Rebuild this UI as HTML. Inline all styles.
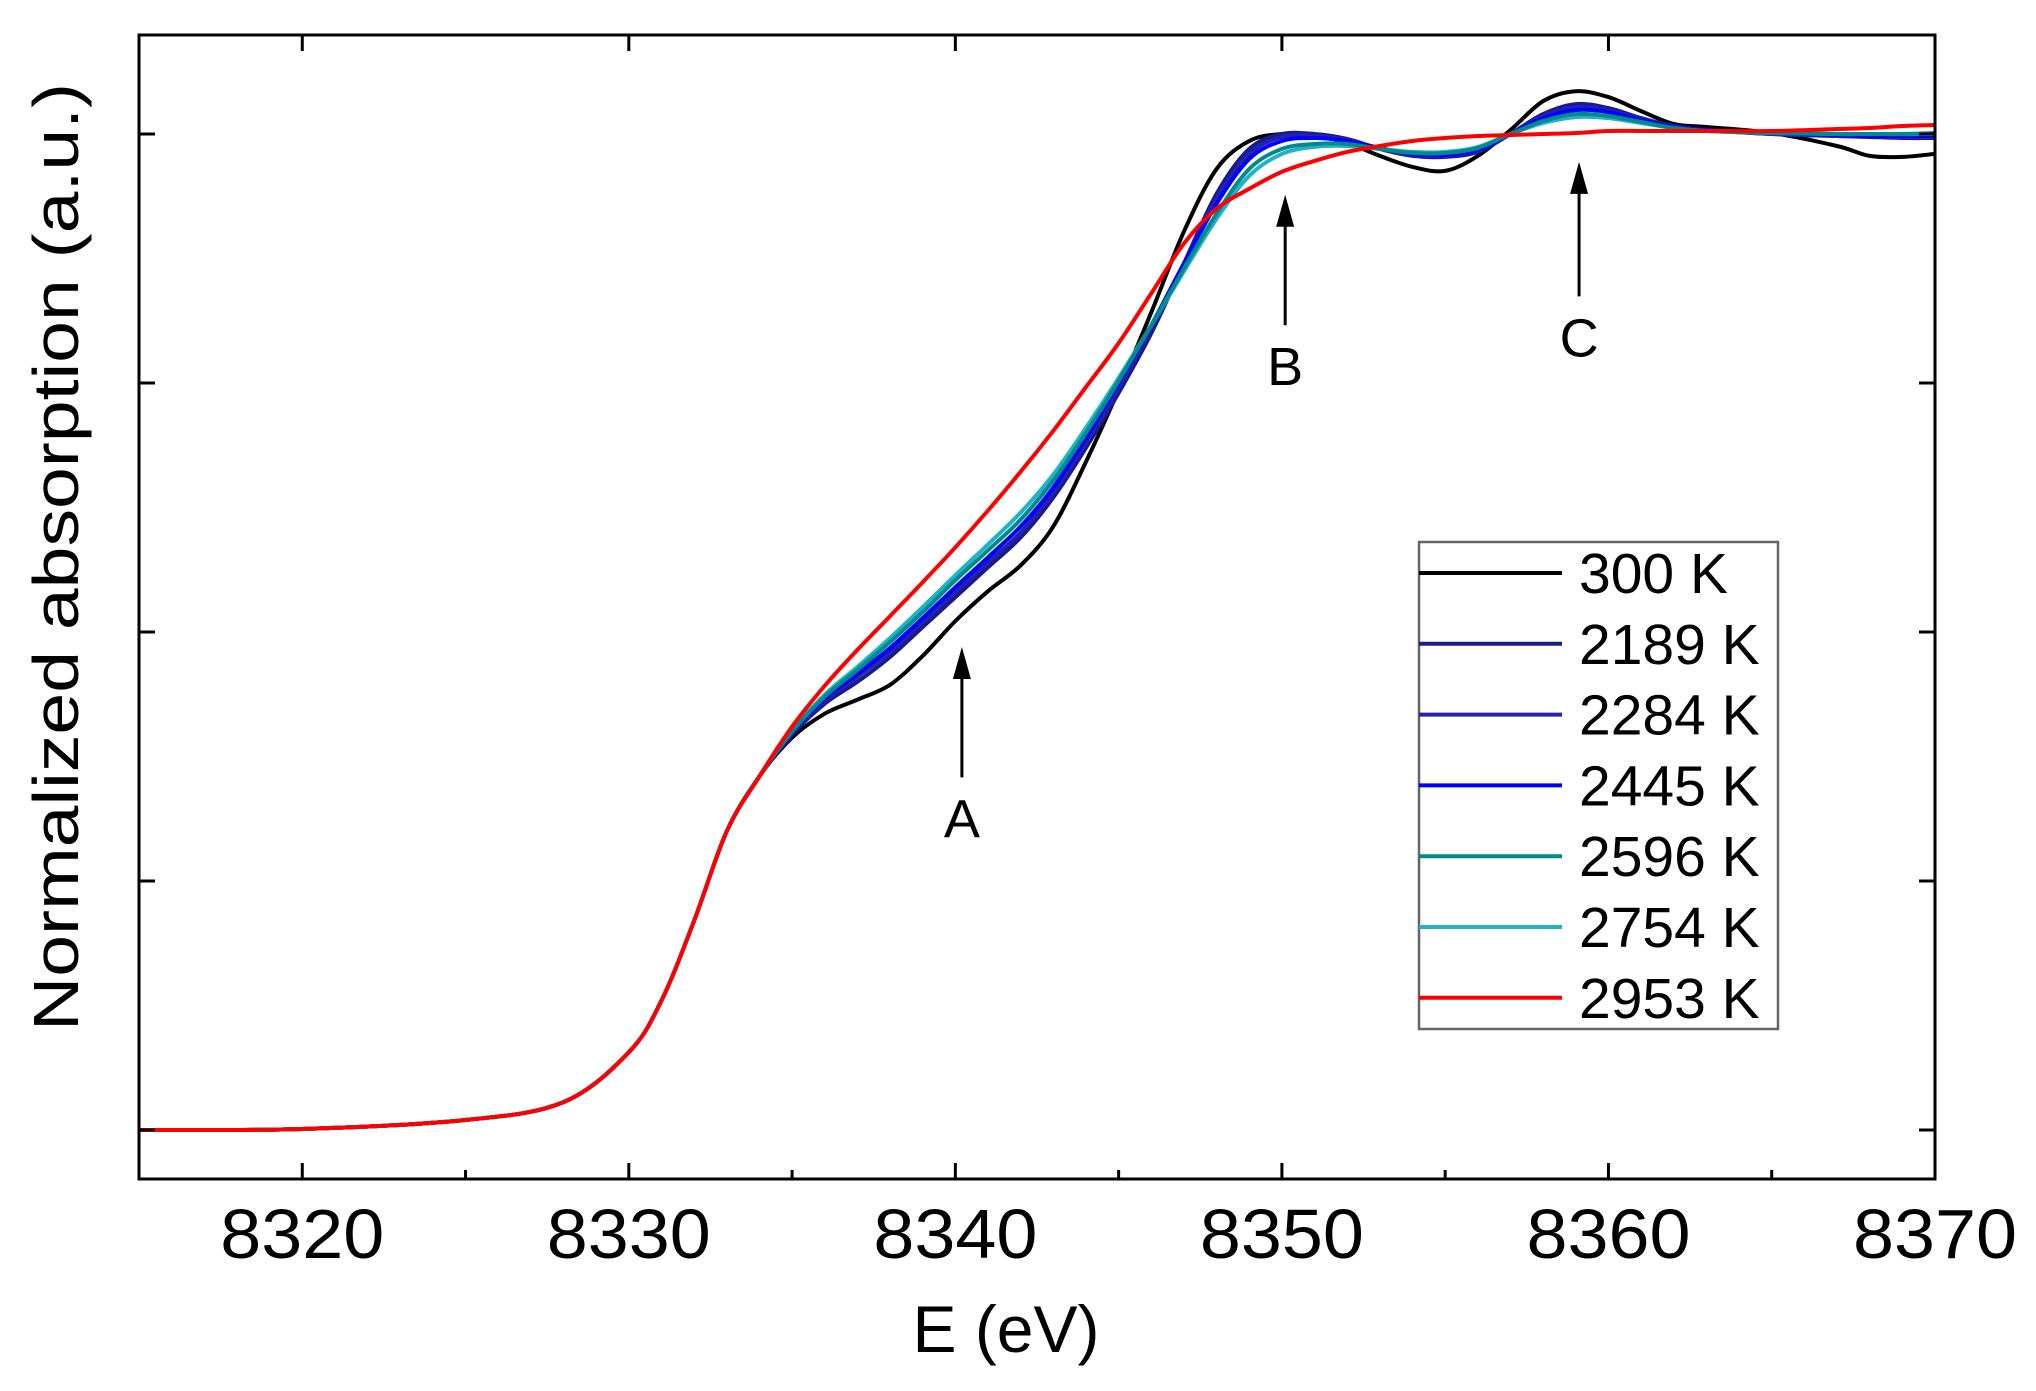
<!DOCTYPE html>
<html><head><meta charset="utf-8"><style>
html,body{margin:0;padding:0;background:#fff;}
svg{display:block;font-family:"Liberation Sans",sans-serif;}
</style></head><body>
<svg id="chart" width="2036" height="1391" viewBox="0 0 2036 1391">
<g id="series"></g>
<g id="axes"></g>
<g id="annot"></g>
<g id="legend"></g>
</svg>
<script>
const energies = [8315,8320,8325,8328,8330,8331,8332,8333,8334,8335,8336,8337,8338,8339,8340,8341,8342,8343,8344,8345,8346,8347,8348,8349,8350,8351,8352,8353,8354,8355,8356,8357,8358,8359,8360,8361,8362,8363,8365,8367,8368,8369,8370];
const preEdge = [0,0.001,0.01,0.028,0.078,0.13,0.21,0.30,0.355];
const s300 = preEdge.concat([0.394,0.418,0.432,0.447,0.476,0.511,0.541,0.567,0.606,0.671,0.743,0.821,0.902,0.965,0.993,1.0,0.999,0.991,0.978,0.967,0.963,0.978,1.004,1.033,1.043,1.037,1.023,1.010,1.007,1.001,0.988,0.978,0.977,0.980]);
const s2189 = preEdge.concat([0.397,0.428,0.45,0.475,0.505,0.535,0.565,0.595,0.635,0.685,0.74,0.8,0.87,0.94,0.985,1.0,1.0,0.995,0.985,0.978,0.977,0.982,1.0,1.02,1.03,1.026,1.016,1.008,1.004,1.0,0.998,0.997,0.996,0.996]);
const s2284 = preEdge.concat([0.398,0.431,0.455,0.48,0.51,0.54,0.57,0.6,0.64,0.69,0.745,0.805,0.87,0.935,0.98,0.997,0.998,0.994,0.985,0.979,0.978,0.983,1.0,1.018,1.027,1.024,1.015,1.008,1.004,1.0,0.998,0.998,0.997,0.997]);
const s2445 = preEdge.concat([0.399,0.433,0.458,0.484,0.514,0.545,0.575,0.606,0.645,0.695,0.75,0.808,0.87,0.93,0.975,0.993,0.996,0.993,0.986,0.98,0.979,0.984,1.0,1.016,1.024,1.022,1.014,1.007,1.004,1.001,0.999,0.998,0.998,0.998]);
const s2596 = preEdge.concat([0.4,0.435,0.462,0.49,0.52,0.552,0.582,0.613,0.652,0.7,0.752,0.808,0.865,0.92,0.965,0.985,0.99,0.99,0.985,0.981,0.981,0.986,1.0,1.013,1.02,1.018,1.012,1.006,1.003,1.001,1.0,1.0,1.0,1.001]);
const s2754 = preEdge.concat([0.401,0.437,0.465,0.494,0.525,0.557,0.588,0.62,0.658,0.705,0.755,0.808,0.862,0.915,0.958,0.98,0.987,0.988,0.985,0.982,0.982,0.987,1.0,1.011,1.017,1.016,1.011,1.006,1.003,1.001,1.0,1.0,1.0,1.0]);
const s2953 = preEdge.concat([0.405,0.446,0.482,0.516,0.55,0.585,0.622,0.661,0.702,0.746,0.79,0.84,0.89,0.925,0.945,0.962,0.973,0.982,0.988,0.993,0.996,0.998,0.999,1.0,1.001,1.003,1.003,1.003,1.003,1.003,1.005,1.006,1.008,1.009]);
const seriesLabels = ["300 K","2189 K","2284 K","2445 K","2596 K","2754 K","2953 K"];
const seriesColors = ["#000000","#1a1a8c","#2222b0","#0000ff","#008b8b","#20b2c8","#ff0000"];
const xTicks = [8320,8330,8340,8350,8360,8370];
const xMinor = [8315,8325,8335,8345,8355,8365];
const yTicks = [0,0.25,0.5,0.75,1.0];
const annotations = [{label:"A",e:8340.2,tip:0.485,tail:0.354},{label:"B",e:8350.1,tip:0.939,tail:0.808},{label:"C",e:8359.1,tip:0.972,tail:0.837}];

const L=139,R=1935,T=35,B=1179;
const X=e=>L+(e-8315)*(R-L)/55;
const Y=v=>1130-v*996;
const NS="http://www.w3.org/2000/svg";
function mk(tag,parent){const el=document.createElementNS(NS,tag);parent.appendChild(el);return el;}
function smooth(pts){let d="M"+pts[0][0].toFixed(1)+","+pts[0][1].toFixed(1);
 for(let i=0;i<pts.length-1;i++){const p0=pts[Math.max(0,i-1)],p1=pts[i],p2=pts[i+1],p3=pts[Math.min(pts.length-1,i+2)];
 const c1=[p1[0]+(p2[0]-p0[0])/6,p1[1]+(p2[1]-p0[1])/6],c2=[p2[0]-(p3[0]-p1[0])/6,p2[1]-(p3[1]-p1[1])/6];
 d+=" C"+c1[0].toFixed(1)+","+c1[1].toFixed(1)+" "+c2[0].toFixed(1)+","+c2[1].toFixed(1)+" "+p2[0].toFixed(1)+","+p2[1].toFixed(1);}
 return d;}
const allSeries=[s300,s2189,s2284,s2445,s2596,s2754,s2953];
const sg=document.getElementById("series");
const order=[0,1,2,3,5,4,6];
order.forEach(k=>{const p=mk("path",sg);
 p.setAttribute("d",smooth(energies.map((e,i)=>[X(e),Y(allSeries[k][i])])));
 p.setAttribute("fill","none");p.setAttribute("stroke",seriesColors[k]);p.setAttribute("stroke-width","4");p.setAttribute("stroke-linejoin","round");
 
 
});
const ax=document.getElementById("axes");
const fr=mk("rect",ax);fr.setAttribute("x",L);fr.setAttribute("y",T);fr.setAttribute("width",R-L);fr.setAttribute("height",B-T);
fr.setAttribute("fill","none");fr.setAttribute("stroke","#000");fr.setAttribute("stroke-width","3");


function line(p,x1,y1,x2,y2,w){const l=mk("line",p);l.setAttribute("x1",x1);l.setAttribute("y1",y1);l.setAttribute("x2",x2);l.setAttribute("y2",y2);l.setAttribute("stroke","#000");l.setAttribute("stroke-width",w||3);return l;}
xTicks.forEach(t=>{const a=line(ax,X(t),B,X(t),B-16);
 
 
 const b=line(ax,X(t),T,X(t),T+16);
 
 
 const tx=mk("text",ax);tx.setAttribute("x",X(t));tx.setAttribute("y",1258);tx.setAttribute("text-anchor","middle");tx.setAttribute("font-size","70");tx.setAttribute("textLength","164");tx.setAttribute("lengthAdjust","spacingAndGlyphs");tx.textContent=t;
 
 
});
xMinor.forEach(t=>{const a=line(ax,X(t),B,X(t),B-9);
 
 
});
yTicks.forEach(v=>{const a=line(ax,L,Y(v),L+16,Y(v));
 
 
 const b=line(ax,R,Y(v),R-16,Y(v));
 
 
});
const xt=mk("text",ax);xt.setAttribute("x",1006);xt.setAttribute("y",1352);xt.setAttribute("text-anchor","middle");xt.setAttribute("font-size","66");xt.textContent="E (eV)";


const yt=mk("text",ax);yt.setAttribute("transform","translate(78,557) rotate(-90)");yt.setAttribute("text-anchor","middle");yt.setAttribute("font-size","64");yt.setAttribute("textLength","948");yt.setAttribute("lengthAdjust","spacingAndGlyphs");yt.textContent="Normalized absorption (a.u.)";


const an=document.getElementById("annot");
annotations.forEach(a=>{const x=X(a.e),ty=Y(a.tip),tl=Y(a.tail);
 const l=line(an,x,tl,x,ty+28,3);
 
 
 const h=mk("polygon",an);h.setAttribute("points",`${x},${ty} ${x-9},${ty+32} ${x+9},${ty+32}`);h.setAttribute("fill","#000");
 
 
 const t=mk("text",an);t.setAttribute("x",x);t.setAttribute("y",tl+60);t.setAttribute("text-anchor","middle");t.setAttribute("font-size","54");t.textContent=a.label;
 
 
});
const lg=document.getElementById("legend");
const lb=mk("rect",lg);lb.setAttribute("x",1419);lb.setAttribute("y",542);lb.setAttribute("width",359);lb.setAttribute("height",487);lb.setAttribute("fill","#fff");lb.setAttribute("stroke","#666");lb.setAttribute("stroke-width","2.5");


seriesLabels.forEach((s,i)=>{const y=573+i*70.8;
 const l=mk("line",lg);l.setAttribute("x1",1419);l.setAttribute("x2",1562);l.setAttribute("y1",y);l.setAttribute("y2",y);l.setAttribute("stroke",seriesColors[i]);l.setAttribute("stroke-width","4");
 
 
 const t=mk("text",lg);t.setAttribute("x",1579);t.setAttribute("y",y+20);t.setAttribute("font-size","57");t.textContent=s;
 
 
});
</script>
</body></html>
